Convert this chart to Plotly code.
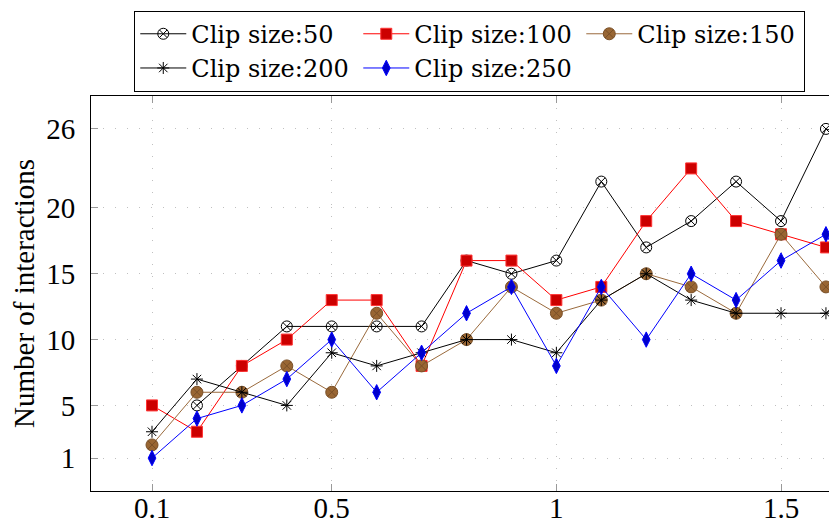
import plotly.graph_objects as go

x_vals = [0.1, 0.2, 0.3, 0.4, 0.5, 0.6, 0.7, 0.8, 0.9, 1.0, 1.1, 1.2, 1.3, 1.4, 1.5, 1.6, 1.7]
clip50 = [None, 5, 8, 11, 11, 11, 11, 16, 15, 16, 22, 17, 19, 22, 19, 26, 25]
clip100 = [5, 3, 8, 10, 13, 13, 8, 16, 16, 13, 14, 19, 23, 19, 18, 17, 18]
clip150 = [2, 6, 6, 8, 6, 12, 8, 10, 14, 12, 13, 15, 14, 12, 18, 14, 16]
clip200 = [3, 7, 6, 5, 9, 8, 9, 10, 10, 9, 13, 15, 13, 12, 12, 12, 14]
clip250 = [1, 4, 5, 7, 10, 6, 9, 12, 14, 8, 14, 10, 15, 13, 16, 18, 12]

x_ticks = [0.1, 0.5, 1, 1.5]
x_tick_labels = ["0.1", "0.5", "1", "1.5"]
y_ticks = [1, 5, 10, 15, 20, 26]
y_tick_labels = ["1", "5", "10", "15", "20", "26"]
names = ["Clip size:50", "Clip size:100", "Clip size:150", "Clip size:200", "Clip size:250"]

FONT = "Liberation Serif"
LFONT = "DejaVu Serif"
FS = 29
LFS = 24

fig = go.Figure()

fig.add_trace(go.Scatter(
    x=x_vals[1:], y=clip50[1:], name=names[0], mode="lines+markers",
    line=dict(color="black", width=1),
    marker=dict(symbol="circle-x-open", size=11, color="black", line=dict(width=1, color="black")),
))
fig.add_trace(go.Scatter(
    x=x_vals, y=clip100, name=names[1], mode="lines+markers",
    line=dict(color="#ff0000", width=1),
    marker=dict(symbol="square", size=11, color="#cc0000", line=dict(width=1, color="#ff3333")),
))
fig.add_trace(go.Scatter(
    x=x_vals, y=clip150, name=names[2], mode="lines+markers",
    line=dict(color="#9a6a3c", width=1),
    marker=dict(symbol="circle-x", size=12, color="#996633", line=dict(width=1, color="#7a5028")),
))
fig.add_trace(go.Scatter(
    x=x_vals, y=clip200, name=names[3], mode="lines+markers",
    line=dict(color="black", width=1),
    marker=dict(symbol="asterisk-open", size=10, color="black", line=dict(width=1, color="black")),
))
fig.add_trace(go.Scatter(
    x=x_vals, y=clip250, name=names[4], mode="lines+markers",
    line=dict(color="#0000ff", width=1),
    marker=dict(symbol="diamond-tall", size=11, color="#0000cc", line=dict(width=1, color="#0000ff")),
))

fig.update_layout(
    width=829, height=520,
    margin=dict(l=83, r=0, t=88, b=37, autoexpand=False),
    paper_bgcolor="white", plot_bgcolor="white",
    font=dict(family=FONT, size=FS, color="black"),
    showlegend=True,
    legend=dict(
        orientation="h", x=0.058, y=1.216, xanchor="left", yanchor="top",
        bordercolor="black", borderwidth=1, bgcolor="white",
        font=dict(family=LFONT, size=LFS, color="black"),
        entrywidth=162, entrywidthmode="pixels", itemwidth=46,
        tracegroupgap=0,
    ),
    xaxis=dict(
        range=[-0.0358, 1.6246],
        tickmode="array", tickvals=x_ticks, ticktext=x_tick_labels,
        ticks="inside", ticklen=7, tickcolor="#999999", tickwidth=1,
        showline=True, linecolor="black", linewidth=1, mirror="ticks",
        showgrid=True, gridcolor="#c0c0c0", griddash="1px,11px", gridwidth=1,
        zeroline=False, ticklabelstandoff=-9,
    ),
    yaxis=dict(
        range=[-1.5, 28.5],
        tickmode="array", tickvals=y_ticks, ticktext=y_tick_labels,
        ticks="inside", ticklen=7, tickcolor="#999999", tickwidth=1,
        showline=True, linecolor="black", linewidth=1, mirror="ticks",
        showgrid=True, gridcolor="#c0c0c0", griddash="1px,11px", gridwidth=1,
        zeroline=False, ticklabelstandoff=9,
        title=dict(text="Number of interactions", standoff=16, font=dict(family=FONT, size=FS)),
    ),
)

fig.write_html("out.html")
